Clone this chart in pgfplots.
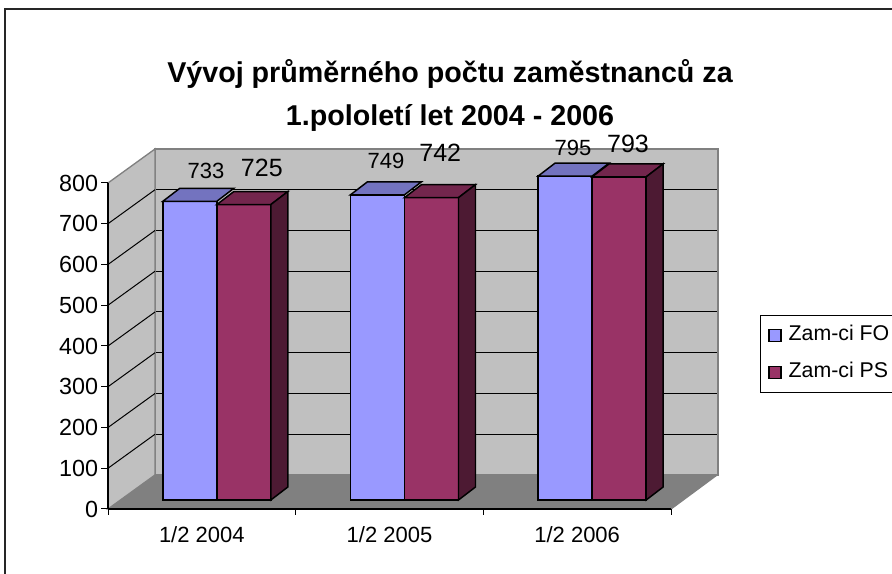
\documentclass[border=0pt]{standalone}
\usepackage{fontspec}
\setmainfont{Liberation Sans}
\usepackage{pgfplots}
\usepackage{pgfplotstable}
\pgfplotsset{compat=1.18}
\pgfplotsset{/pgf/number format/assume math mode=true}

\definecolor{bluefront}{HTML}{9999FF}
\definecolor{bluetop}{HTML}{7373BF}
\definecolor{blueside}{HTML}{4D4D80}
\definecolor{redfront}{HTML}{993366}
\definecolor{redtop}{HTML}{73264D}
\definecolor{redside}{HTML}{4D1A33}
\definecolor{wallgray}{HTML}{C0C0C0}
\definecolor{floorgray}{HTML}{808080}
\definecolor{edgegray}{HTML}{808080}

% values: x = category (0,1,2), y = value, lx/ly = label offsets (pt)
\pgfplotstableread{
x y lx ly
0 733 -8.05 23.1
1 749 -13.85 25.5
2 795 -14.45 21.4
}\fotable
\pgfplotstableread{
x y lx ly
0 725 33.75 27.2
1 742 26.85 33.8
2 793 26.85 24.5
}\pstable

% 3D top face of a bar (#2 = bar shift)
\newcommand{\bartop}[2]{%
  \pgfsetlinewidth{1.1pt}%
  \pgfsetstrokecolor{black}%
  \pgfpathmoveto{\pgfpoint{#2-20.25pt}{0pt}}%
  \pgfpathlineto{\pgfpoint{#2-7.5pt}{9.75pt}}%
  \pgfpathlineto{\pgfpoint{#2+33pt}{9.75pt}}%
  \pgfpathlineto{\pgfpoint{#2+20.25pt}{0pt}}%
  \pgfpathclose
  \pgfsetfillcolor{#1}%
  \pgfusepath{fill,stroke}%
}
% 3D side face of a bar
\newcommand{\barside}[2]{%
  \pgfmathsetmacro\H{\barval*0.305625}%
  \pgfsetlinewidth{1.1pt}%
  \pgfsetstrokecolor{black}%
  \pgfpathmoveto{\pgfpoint{#2+20.25pt}{0pt}}%
  \pgfpathlineto{\pgfpoint{#2+33pt}{9.75pt}}%
  \pgfpathlineto{\pgfpoint{#2+33pt}{9.75pt-\H pt}}%
  \pgfpathlineto{\pgfpoint{#2+20.25pt}{-\H pt}}%
  \pgfpathclose
  \pgfsetfillcolor{#1}%
  \pgfusepath{fill,stroke}%
}
\pgfdeclareplotmark{facesFO}{\bartop{bluetop}{-20.25pt}}
\pgfdeclareplotmark{facesPS}{\bartop{redtop}{20.25pt}\barside{redside}{20.25pt}}

\begin{document}
\begin{tikzpicture}
\path[use as bounding box] (0,0) rectangle (669pt,430.5pt);

% back wall
\begin{axis}[
  at={(116.25pt,74.25pt)}, anchor=south west,
  scale only axis, width=422.25pt, height=244.5pt,
  xmin=-0.5, xmax=2.5, ymin=0, ymax=800,
  xtick=\empty, ytick={100,200,...,700}, yticklabels={},
  major tick length=0pt,
  ymajorgrids, grid style={black, line width=0.75pt},
  axis line style={edgegray, line width=1pt},
  axis background/.style={fill=wallgray},
]
\addplot[draw=none, forget plot] coordinates {(0,0)};
\end{axis}

% side wall and floor
\begin{scope}[x=0.75pt,y=-0.75pt,shift={(0pt,430.5pt)}]
  \fill[wallgray] (108,509) -- (108,183) -- (155,149) -- (155,475) -- cycle;
  \draw[edgegray, line width=1pt] (108,183) -- (155,149) -- (155,475);
  \foreach \k in {1,...,7}
    \draw[black, line width=0.75pt] (108,{509-40.75*\k}) -- (155,{475-40.75*\k});
  \filldraw[fill=floorgray, draw=edgegray, line width=1pt]
    (108,509) -- (671,509) -- (717,475) -- (155,475) -- cycle;
\end{scope}

% front plane: axes, ticks, labels
\begin{axis}[
  at={(81pt,48.75pt)}, anchor=south west,
  scale only axis, width=422.25pt, height=244.5pt,
  xmin=-0.5, xmax=2.5, ymin=0, ymax=800,
  axis x line*=bottom, axis y line*=left,
  axis line style={black, line width=0.9pt},
  xtick={0,1,2}, xticklabels={1/2 2004,1/2 2005,1/2 2006},
  minor xtick={-0.5,0.5,1.5,2.5},
  ytick={0,100,...,800},
  tick align=outside,
  major tick length=5.25pt, minor tick length=4.5pt,
  major x tick style={draw=none},
  minor x tick style={black, line width=0.75pt},
  major y tick style={black, line width=0.75pt},
  xticklabel style={font=\fontsize{16.5}{16.5}\selectfont, text=black,
    inner sep=0pt, anchor=north, yshift=-8pt},
  yticklabel style={font=\fontsize{17.5}{17.5}\selectfont, text=black,
    inner sep=0pt, anchor=east, xshift=-2pt},
]
\addplot[draw=none, forget plot] coordinates {(0,0)};
\end{axis}

% bars
\begin{axis}[
  at={(92.25pt,55.5pt)}, anchor=south west,
  scale only axis, width=422.25pt, height=244.5pt,
  xmin=-0.5, xmax=2.5, ymin=0, ymax=800,
  hide axis, clip=false,
  legend style={at={(1.1314,0.5675)}, anchor=north west,
    draw=black, line width=0.75pt, fill=white,
    font=\fontsize{16}{16}\selectfont,
    inner xsep=6pt, inner ysep=7.5pt, row sep=12.75pt, column sep=5pt,
    nodes={inner sep=0pt, text height=11.5pt, text depth=3.5pt}},
  legend cell align=left,
  legend image code/.code={\draw[#1, line width=1.1pt, draw=black] (0pt,-4.5pt) rectangle (9pt,4.5pt);},
]
\addplot[ybar, bar width=40.5pt, bar shift=-20.25pt,
  fill=bluefront, draw=black, line width=1.1pt,
  mark=facesFO,
  visualization depends on={rawy \as \barval},
  visualization depends on={\thisrow{lx} \as \lx},
  visualization depends on={\thisrow{ly} \as \ly},
  nodes near coords,
  nodes near coords style={anchor=center, inner sep=0pt, xshift=\lx pt, yshift=\ly pt,
    font=\fontsize{16.5}{16.5}\selectfont, text=black},
] table[x=x, y=y] {\fotable};
\addlegendentry{Zam-ci FO\hspace{20pt}}
\addplot[ybar, bar width=40.5pt, bar shift=20.25pt,
  fill=redfront, draw=black, line width=1.1pt,
  mark=facesPS,
  visualization depends on={rawy \as \barval},
  visualization depends on={\thisrow{lx} \as \lx},
  visualization depends on={\thisrow{ly} \as \ly},
  nodes near coords,
  nodes near coords style={anchor=center, inner sep=0pt, xshift=\lx pt, yshift=\ly pt,
    font=\fontsize{18.75}{18.75}\selectfont, text=black},
] table[x=x, y=y] {\pstable};
\addlegendentry{Zam-ci PS\hspace{20pt}}
\end{axis}

% title and chart border
\begin{scope}[x=0.75pt,y=-0.75pt,shift={(0pt,430.5pt)}]
  \draw[black!85, line width=1.2pt] (5,9) rectangle (1000,800);
  \node[anchor=base, font=\fontsize{21.5}{21.5}\selectfont\bfseries]
    at (450,83) {Vývoj průměrného počtu zaměstnanců za};
  \node[anchor=base, font=\fontsize{21.5}{21.5}\selectfont\bfseries]
    at (450,126) {1.pololetí let 2004 - 2006};
\end{scope}
\end{tikzpicture}
\end{document}
